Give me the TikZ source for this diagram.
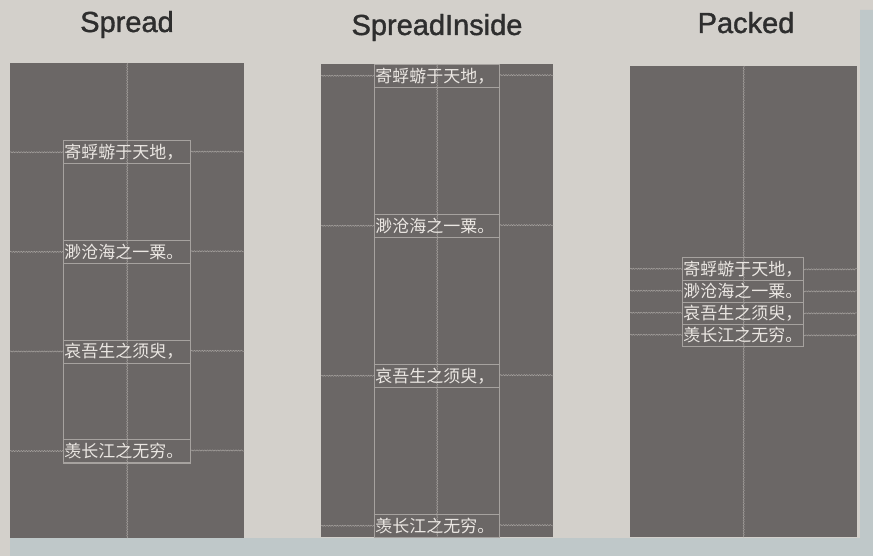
\documentclass[tikz,border=0pt]{standalone}
\usepackage{fontspec}
\setmainfont{Liberation Sans}
\newfontfamily\titlefont{Liberation Sans}[BoldFont={Liberation Sans},BoldFeatures={FakeBold=1.3}]
\newfontfamily\cjk{Noto Sans CJK SC}
\usetikzlibrary{decorations.pathmorphing}
\definecolor{fondo}{HTML}{D3D0CB}
\definecolor{banda}{HTML}{BFC8C9}
\definecolor{panel}{HTML}{6B6766}
\definecolor{guia}{HTML}{A6A29F}
\definecolor{letra}{HTML}{EAE6E2}
\definecolor{titulo}{HTML}{2E2E2E}
\begin{document}
\begin{tikzpicture}[x=1pt,y=-1pt,
    titletext/.style={anchor=base,text=titulo,font=\titlefont\bfseries\fontsize{29}{29}\selectfont},
    panelbox/.style={fill=panel,inner sep=0pt,anchor=north west},
    guide/.style={guia,line width=.5pt,decorate,decoration={snake,amplitude=.6pt,segment length=2.6pt}},
    rowbox/.style={draw=guia,line width=.5pt,anchor=north west,inner xsep=1pt,inner ysep=0pt,
        text width=#1,minimum height=23pt,align=left,text=letra,font=\cjk\fontsize{17}{17}\selectfont}]
    \useasboundingbox (0,0) rectangle (873,556);
    \fill[fondo] (0,0) rectangle (873,556);
    \fill[banda] (10,538) rectangle (873,556) (860,10) rectangle (873,556);
    % Los tres paneles y sus titulos.
    \node[panelbox,minimum width=234pt,minimum height=475pt] (p1) at (10,63) {};
    \node[panelbox,minimum width=232pt,minimum height=473pt] (p2) at (321,64) {};
    \node[panelbox,minimum width=227pt,minimum height=471pt] (p3) at (630,66) {};
    \node[titletext] (t1) at (127,32) {Spread};
    \node[titletext] (t2) at (437,35) {SpreadInside};
    \node[titletext] (t3) at (746,33) {Packed};
    \foreach \p in {p1,p2,p3}
        \draw[guide] (\p.north) -- (\p.south);
    % Spread
    \foreach \t [count=\i, evaluate=\i as \y using {140.5+(\i-1)*99.6}] in
        {寄蜉蝣于天地，,渺沧海之一粟。,哀吾生之须臾，,羡长江之无穷。} {
        \node[rowbox=125pt] (s\i) at (63,\y) {\t};
        \draw[guide] (p1.west |- s\i.west) -- (s\i.west) (s\i.east) -- (p1.east |- s\i.east);
    }
    \draw[guia,line width=.5pt] (s1.north west) rectangle (s4.south east);
    % SpreadInside
    \foreach \t [count=\i, evaluate=\i as \y using {64+(\i-1)*150}] in
        {寄蜉蝣于天地，,渺沧海之一粟。,哀吾生之须臾，,羡长江之无穷。} {
        \node[rowbox=123pt] (i\i) at (374,\y) {\t};
        \draw[guide] (p2.west |- i\i.west) -- (i\i.west) (i\i.east) -- (p2.east |- i\i.east);
    }
    \draw[guia,line width=.5pt] (i1.north west) rectangle (i4.south east);
    % Packed
    \foreach \t [count=\i, evaluate=\i as \y using {257.5+(\i-1)*22}] in
        {寄蜉蝣于天地，,渺沧海之一粟。,哀吾生之须臾，,羡长江之无穷。} {
        \node[rowbox=119pt,minimum height=22pt] (k\i) at (682,\y) {\t};
        \draw[guide] (p3.west |- k\i.west) -- (k\i.west) (k\i.east) -- (p3.east |- k\i.east);
    }
    \draw[guia,line width=.5pt] (k1.north west) rectangle (k4.south east);
\end{tikzpicture}
\end{document}
